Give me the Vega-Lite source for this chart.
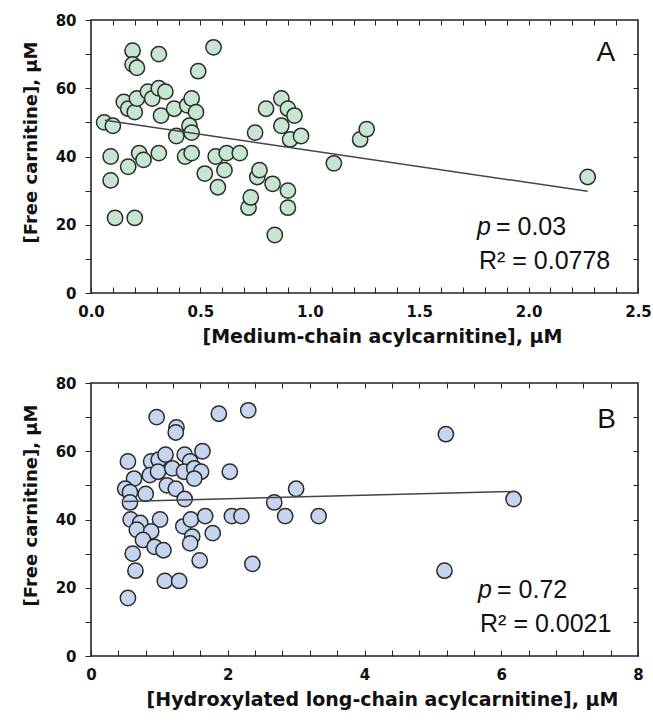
{
  "$schema": "https://vega.github.io/schema/vega-lite/v6.json",
  "padding": {"left": 21, "top": 12, "right": 5, "bottom": 5},
  "background": "white",
  "spacing": 28,
  "config": {
    "view": {"stroke": "#222", "strokeWidth": 1.6},
    "axis": {
      "grid": false,
      "labelFont": "DejaVu Sans", "labelFontWeight": "bold", "labelFontSize": 15, "labelColor": "#111",
      "titleFont": "DejaVu Sans", "titleFontWeight": "bold", "titleFontSize": 18, "titleColor": "#111"
    },
    "text": {"font": "Liberation Sans", "color": "#111"}
  },
  "vconcat": [
    {
      "width": 547, "height": 273,
      "resolve": {"axis": {"x": "independent", "y": "independent"}},
      "layer": [
        {
          "data": {"values": [
            {"x": 0.06, "y": 50}, {"x": 0.10, "y": 49}, {"x": 0.09, "y": 40}, {"x": 0.09, "y": 33},
            {"x": 0.11, "y": 22}, {"x": 0.20, "y": 22}, {"x": 0.15, "y": 56}, {"x": 0.17, "y": 54},
            {"x": 0.20, "y": 53}, {"x": 0.17, "y": 37}, {"x": 0.19, "y": 71}, {"x": 0.19, "y": 67},
            {"x": 0.21, "y": 66}, {"x": 0.21, "y": 57}, {"x": 0.22, "y": 41}, {"x": 0.24, "y": 39},
            {"x": 0.26, "y": 59}, {"x": 0.28, "y": 57}, {"x": 0.31, "y": 60}, {"x": 0.34, "y": 59},
            {"x": 0.31, "y": 70}, {"x": 0.31, "y": 41}, {"x": 0.32, "y": 52}, {"x": 0.38, "y": 54},
            {"x": 0.39, "y": 46}, {"x": 0.44, "y": 55}, {"x": 0.46, "y": 57}, {"x": 0.48, "y": 53},
            {"x": 0.45, "y": 49}, {"x": 0.46, "y": 47}, {"x": 0.43, "y": 40}, {"x": 0.46, "y": 41},
            {"x": 0.49, "y": 65}, {"x": 0.52, "y": 35}, {"x": 0.56, "y": 72}, {"x": 0.57, "y": 40},
            {"x": 0.58, "y": 31}, {"x": 0.61, "y": 36}, {"x": 0.62, "y": 41}, {"x": 0.68, "y": 41},
            {"x": 0.72, "y": 25}, {"x": 0.73, "y": 28}, {"x": 0.75, "y": 47}, {"x": 0.76, "y": 34},
            {"x": 0.77, "y": 36}, {"x": 0.80, "y": 54}, {"x": 0.83, "y": 32}, {"x": 0.84, "y": 17},
            {"x": 0.87, "y": 57}, {"x": 0.87, "y": 49}, {"x": 0.90, "y": 54}, {"x": 0.90, "y": 30},
            {"x": 0.90, "y": 25}, {"x": 0.91, "y": 45}, {"x": 0.93, "y": 52}, {"x": 0.96, "y": 46},
            {"x": 1.11, "y": 38}, {"x": 1.23, "y": 45}, {"x": 1.26, "y": 48}, {"x": 2.27, "y": 34}
          ]},
          "mark": {"type": "circle", "size": 235, "fill": "#c6e6cf", "stroke": "#2b2b2b", "strokeWidth": 1.5, "opacity": 1},
          "encoding": {
            "x": {"field": "x", "type": "quantitative",
                  "scale": {"domain": [0, 2.5], "nice": false, "zero": false},
                  "axis": {"orient": "bottom", "ticks": true,
                           "values": [0,0.1,0.2,0.3,0.4,0.5,0.6,0.7,0.8,0.9,1,1.1,1.2,1.3,1.4,1.5,1.6,1.7,1.8,1.9,2,2.1,2.2,2.3,2.4,2.5],
                           "labelExpr": "abs(datum.value*2 - round(datum.value*2)) < 0.001 ? format(datum.value, '.1f') : ''",
                           "labelOverlap": false, "labelFlush": false, "domain": false, "tickColor": "#222",
                           "tickSize": -6, "labelPadding": 17, "title": "[Medium-chain acylcarnitine], μM",
                           "titleFontSize": 19, "titlePadding": 8, "titleX": 291}},
            "y": {"field": "y", "type": "quantitative",
                  "scale": {"domain": [0, 80], "nice": false},
                  "axis": {"orient": "left", "ticks": true, "values": [0, 10, 20, 30, 40, 50, 60, 70, 80],
                           "labelExpr": "datum.value % 20 == 0 ? datum.label : ''",
                           "labelOverlap": false, "labelFlush": false, "domain": false,
                           "tickColor": "#222", "tickSize": 6, "labelPadding": 9,
                           "title": "[Free carnitine], μM", "titlePadding": 15, "titleY": 122}}
          }
        },
        {
          "data": {"values": [{"x": 0.064, "y": 50.6}, {"x": 2.27, "y": 29.8}]},
          "mark": {"type": "line", "color": "#444", "strokeWidth": 1.5},
          "encoding": {
            "x": {"field": "x", "type": "quantitative",
                  "axis": {"orient": "top", "ticks": true,
                           "values": [0.1,0.2,0.3,0.4,0.5,0.6,0.7,0.8,0.9,1,1.1,1.2,1.3,1.4,1.5,1.6,1.7,1.8,1.9,2,2.1,2.2,2.3,2.4],
                           "domain": false, "tickColor": "#222", "tickSize": -5, "labels": false, "title": null}},
            "y": {"field": "y", "type": "quantitative",
                  "axis": {"orient": "right", "ticks": true, "values": [10, 20, 30, 40, 50, 60, 70],
                           "domain": false, "tickColor": "#222", "tickSize": -5, "labels": false, "title": null}}
          }
        },
        {
          "data": {"values": [{"t": "A"}]},
          "mark": {"type": "text", "fontSize": 28, "align": "center", "baseline": "middle"},
          "encoding": {
            "text": {"field": "t"},
            "x": {"datum": 2.353, "type": "quantitative", "axis": null},
            "y": {"datum": 70.3, "type": "quantitative", "axis": null}
          }
        },
        {
          "data": {"values": [{"t": "p"}]},
          "mark": {"type": "text", "fontSize": 25, "fontStyle": "italic", "align": "left", "baseline": "middle"},
          "encoding": {
            "text": {"field": "t"},
            "x": {"datum": 1.764, "type": "quantitative", "axis": null},
            "y": {"datum": 19.3, "type": "quantitative", "axis": null}
          }
        },
        {
          "data": {"values": [{"t": "= 0.03"}]},
          "mark": {"type": "text", "fontSize": 25, "align": "left", "baseline": "middle", "dx": 19},
          "encoding": {
            "text": {"field": "t"},
            "x": {"datum": 1.764, "type": "quantitative", "axis": null},
            "y": {"datum": 19.3, "type": "quantitative", "axis": null}
          }
        },
        {
          "data": {"values": [{"t": "R² = 0.0778"}]},
          "mark": {"type": "text", "fontSize": 25, "align": "left", "baseline": "middle"},
          "encoding": {
            "text": {"field": "t"},
            "x": {"datum": 1.773, "type": "quantitative", "axis": null},
            "y": {"datum": 9.3, "type": "quantitative", "axis": null}
          }
        }
      ]
    },
    {
      "width": 547, "height": 273,
      "resolve": {"axis": {"x": "independent", "y": "independent"}},
      "layer": [
        {
          "data": {"values": [
            {"x": 0.96, "y": 70}, {"x": 1.25, "y": 67}, {"x": 1.24, "y": 65.5}, {"x": 1.87, "y": 71}, {"x": 2.30, "y": 72},
            {"x": 0.54, "y": 57}, {"x": 0.88, "y": 57}, {"x": 0.99, "y": 57.5}, {"x": 1.09, "y": 59}, {"x": 1.37, "y": 59},
            {"x": 1.45, "y": 57}, {"x": 1.63, "y": 60}, {"x": 0.63, "y": 52}, {"x": 0.86, "y": 53}, {"x": 0.98, "y": 54},
            {"x": 1.19, "y": 55}, {"x": 1.36, "y": 54}, {"x": 1.51, "y": 55}, {"x": 1.61, "y": 54}, {"x": 1.51, "y": 52},
            {"x": 2.03, "y": 54}, {"x": 0.50, "y": 49}, {"x": 0.57, "y": 48}, {"x": 0.80, "y": 47.5}, {"x": 1.11, "y": 50},
            {"x": 1.24, "y": 49}, {"x": 3.00, "y": 49}, {"x": 1.37, "y": 46}, {"x": 0.57, "y": 45}, {"x": 2.68, "y": 45},
            {"x": 0.58, "y": 40}, {"x": 0.72, "y": 39}, {"x": 0.67, "y": 37}, {"x": 1.01, "y": 40}, {"x": 0.88, "y": 36.5},
            {"x": 0.76, "y": 34}, {"x": 0.93, "y": 32}, {"x": 1.06, "y": 31}, {"x": 1.35, "y": 38}, {"x": 1.46, "y": 40},
            {"x": 1.48, "y": 35}, {"x": 1.45, "y": 33}, {"x": 1.67, "y": 41}, {"x": 1.78, "y": 36}, {"x": 2.06, "y": 41},
            {"x": 2.20, "y": 41}, {"x": 2.84, "y": 41}, {"x": 3.33, "y": 41}, {"x": 0.61, "y": 30}, {"x": 0.65, "y": 25},
            {"x": 0.54, "y": 17}, {"x": 1.59, "y": 28}, {"x": 2.36, "y": 27}, {"x": 1.08, "y": 22}, {"x": 1.29, "y": 22},
            {"x": 5.19, "y": 65}, {"x": 6.18, "y": 46}, {"x": 5.17, "y": 25}
          ]},
          "mark": {"type": "circle", "size": 235, "fill": "#c5d5ee", "stroke": "#2b2b2b", "strokeWidth": 1.5, "opacity": 1},
          "encoding": {
            "x": {"field": "x", "type": "quantitative",
                  "scale": {"domain": [0, 8], "nice": false, "zero": false},
                  "axis": {"orient": "bottom", "ticks": true,
                           "values": [0,0.4,0.8,1.2,1.6,2,2.4,2.8,3.2,3.6,4,4.4,4.8,5.2,5.6,6,6.4,6.8,7.2,7.6,8],
                           "labelExpr": "abs(datum.value/2 - round(datum.value/2)) < 0.001 ? format(datum.value, 'd') : ''",
                           "labelOverlap": false, "labelFlush": false, "domain": false, "tickColor": "#222",
                           "tickSize": -6, "labelPadding": 17, "title": "[Hydroxylated long-chain acylcarnitine], μM",
                           "titleFontSize": 19, "titlePadding": 8, "titleX": 291}},
            "y": {"field": "y", "type": "quantitative",
                  "scale": {"domain": [0, 80], "nice": false},
                  "axis": {"orient": "left", "ticks": true, "values": [0, 10, 20, 30, 40, 50, 60, 70, 80],
                           "labelExpr": "datum.value % 20 == 0 ? datum.label : ''",
                           "labelOverlap": false, "labelFlush": false, "domain": false,
                           "tickColor": "#222", "tickSize": 6, "labelPadding": 9,
                           "title": "[Free carnitine], μM", "titlePadding": 15, "titleY": 122}}
          }
        },
        {
          "data": {"values": [{"x": 0.48, "y": 45.3}, {"x": 6.18, "y": 48.2}]},
          "mark": {"type": "line", "color": "#444", "strokeWidth": 1.5},
          "encoding": {
            "x": {"field": "x", "type": "quantitative",
                  "axis": {"orient": "top", "ticks": true,
                           "values": [0.4,0.8,1.2,1.6,2,2.4,2.8,3.2,3.6,4,4.4,4.8,5.2,5.6,6,6.4,6.8,7.2,7.6],
                           "domain": false, "tickColor": "#222", "tickSize": -5, "labels": false, "title": null}},
            "y": {"field": "y", "type": "quantitative",
                  "axis": {"orient": "right", "ticks": true, "values": [10, 20, 30, 40, 50, 60, 70],
                           "domain": false, "tickColor": "#222", "tickSize": -5, "labels": false, "title": null}}
          }
        },
        {
          "data": {"values": [{"t": "B"}]},
          "mark": {"type": "text", "fontSize": 28, "align": "center", "baseline": "middle"},
          "encoding": {
            "text": {"field": "t"},
            "x": {"datum": 7.54, "type": "quantitative", "axis": null},
            "y": {"datum": 69.1, "type": "quantitative", "axis": null}
          }
        },
        {
          "data": {"values": [{"t": "p"}]},
          "mark": {"type": "text", "fontSize": 25, "fontStyle": "italic", "align": "left", "baseline": "middle"},
          "encoding": {
            "text": {"field": "t"},
            "x": {"datum": 5.66, "type": "quantitative", "axis": null},
            "y": {"datum": 19.2, "type": "quantitative", "axis": null}
          }
        },
        {
          "data": {"values": [{"t": "= 0.72"}]},
          "mark": {"type": "text", "fontSize": 25, "align": "left", "baseline": "middle", "dx": 19},
          "encoding": {
            "text": {"field": "t"},
            "x": {"datum": 5.66, "type": "quantitative", "axis": null},
            "y": {"datum": 19.2, "type": "quantitative", "axis": null}
          }
        },
        {
          "data": {"values": [{"t": "R² = 0.0021"}]},
          "mark": {"type": "text", "fontSize": 25, "align": "left", "baseline": "middle"},
          "encoding": {
            "text": {"field": "t"},
            "x": {"datum": 5.69, "type": "quantitative", "axis": null},
            "y": {"datum": 9.5, "type": "quantitative", "axis": null}
          }
        }
      ]
    }
  ]
}
